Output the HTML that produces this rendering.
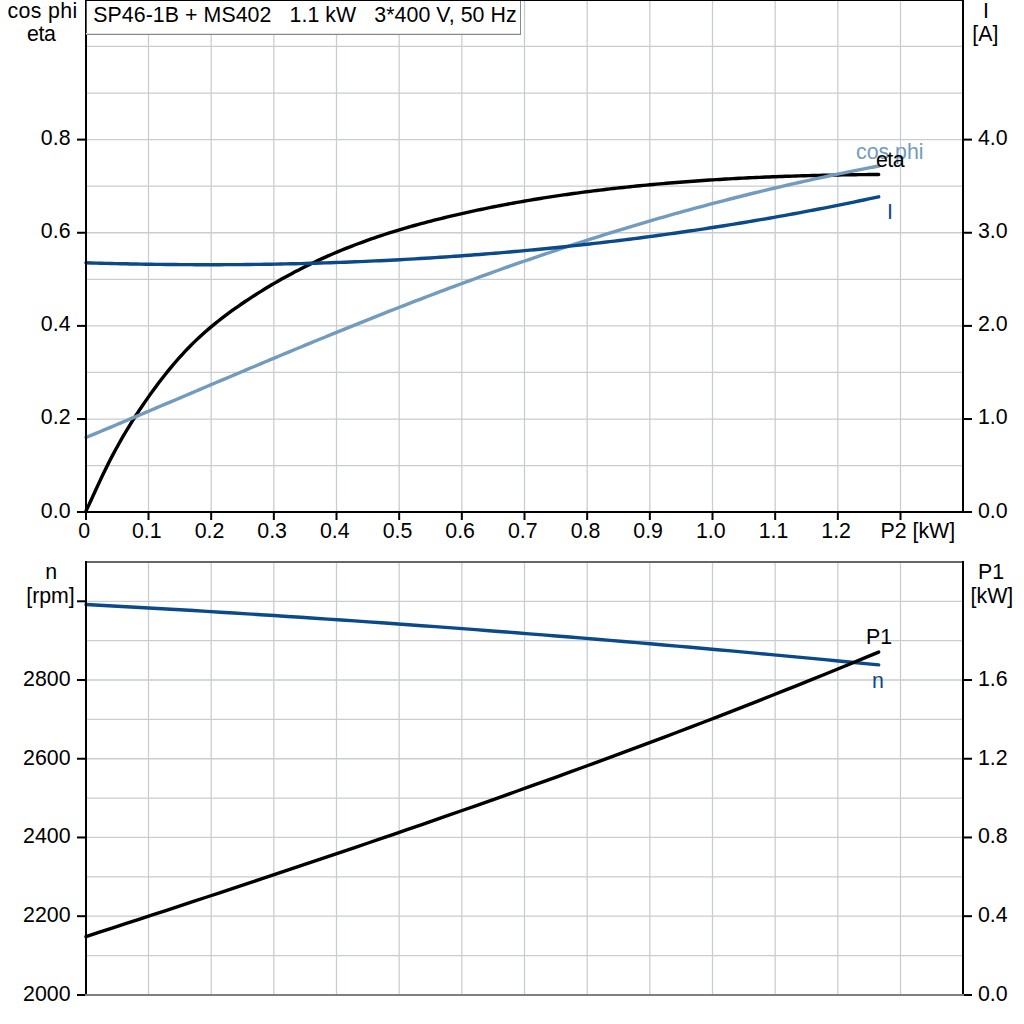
<!DOCTYPE html>
<html><head><meta charset="utf-8"><title>SP46-1B + MS402</title>
<style>html,body{margin:0;padding:0;background:#fff;width:1024px;height:1024px;overflow:hidden}svg{display:block}text{font-family:"Liberation Sans",sans-serif}</style>
</head><body>
<svg width="1024" height="1024" viewBox="0 0 1024 1024" font-family="Liberation Sans, sans-serif" font-size="21.33">
<rect width="1024" height="1024" fill="#fff"/>
<g stroke="#c9cdd1" stroke-width="1.3"><line x1="148.50" y1="1" x2="148.50" y2="511"/><line x1="148.50" y1="563" x2="148.50" y2="994"/><line x1="211.17" y1="1" x2="211.17" y2="511"/><line x1="211.17" y1="563" x2="211.17" y2="994"/><line x1="273.83" y1="1" x2="273.83" y2="511"/><line x1="273.83" y1="563" x2="273.83" y2="994"/><line x1="336.50" y1="1" x2="336.50" y2="511"/><line x1="336.50" y1="563" x2="336.50" y2="994"/><line x1="399.17" y1="1" x2="399.17" y2="511"/><line x1="399.17" y1="563" x2="399.17" y2="994"/><line x1="461.83" y1="1" x2="461.83" y2="511"/><line x1="461.83" y1="563" x2="461.83" y2="994"/><line x1="524.50" y1="1" x2="524.50" y2="511"/><line x1="524.50" y1="563" x2="524.50" y2="994"/><line x1="587.17" y1="1" x2="587.17" y2="511"/><line x1="587.17" y1="563" x2="587.17" y2="994"/><line x1="649.83" y1="1" x2="649.83" y2="511"/><line x1="649.83" y1="563" x2="649.83" y2="994"/><line x1="712.50" y1="1" x2="712.50" y2="511"/><line x1="712.50" y1="563" x2="712.50" y2="994"/><line x1="775.17" y1="1" x2="775.17" y2="511"/><line x1="775.17" y1="563" x2="775.17" y2="994"/><line x1="837.83" y1="1" x2="837.83" y2="511"/><line x1="837.83" y1="563" x2="837.83" y2="994"/><line x1="900.50" y1="1" x2="900.50" y2="511"/><line x1="900.50" y1="563" x2="900.50" y2="994"/><line x1="87" y1="465.60" x2="962" y2="465.60"/><line x1="87" y1="955.54" x2="962" y2="955.54"/><line x1="87" y1="419.03" x2="962" y2="419.03"/><line x1="87" y1="916.18" x2="962" y2="916.18"/><line x1="87" y1="372.46" x2="962" y2="372.46"/><line x1="87" y1="876.82" x2="962" y2="876.82"/><line x1="87" y1="325.89" x2="962" y2="325.89"/><line x1="87" y1="837.46" x2="962" y2="837.46"/><line x1="87" y1="279.32" x2="962" y2="279.32"/><line x1="87" y1="798.10" x2="962" y2="798.10"/><line x1="87" y1="232.75" x2="962" y2="232.75"/><line x1="87" y1="758.74" x2="962" y2="758.74"/><line x1="87" y1="186.18" x2="962" y2="186.18"/><line x1="87" y1="719.38" x2="962" y2="719.38"/><line x1="87" y1="139.61" x2="962" y2="139.61"/><line x1="87" y1="680.02" x2="962" y2="680.02"/><line x1="87" y1="93.04" x2="962" y2="93.04"/><line x1="87" y1="640.66" x2="962" y2="640.66"/><line x1="87" y1="46.47" x2="962" y2="46.47"/><line x1="87" y1="601.30" x2="962" y2="601.30"/></g>
<g><path d="M86.00,511.00 L89.32,503.94 L92.63,496.76 L95.95,489.55 L99.27,482.37 L102.58,475.31 L105.90,468.44 L109.22,461.80 L112.53,455.40 L115.85,449.20 L119.17,443.21 L122.48,437.40 L125.80,431.76 L129.12,426.27 L132.43,420.93 L135.75,415.72 L139.07,410.65 L142.38,405.70 L145.70,400.87 L149.02,396.14 L152.33,391.52 L155.65,386.99 L158.97,382.57 L162.28,378.24 L165.60,374.02 L168.92,369.90 L172.24,365.89 L175.55,361.99 L178.87,358.20 L182.19,354.52 L185.50,350.95 L188.82,347.49 L192.14,344.14 L195.45,340.90 L198.77,337.76 L202.09,334.71 L205.40,331.75 L208.72,328.87 L212.04,326.08 L215.35,323.36 L218.67,320.71 L221.99,318.13 L225.30,315.61 L228.62,313.15 L231.94,310.74 L235.25,308.37 L238.57,306.05 L241.89,303.77 L245.20,301.52 L248.52,299.31 L251.84,297.14 L255.15,295.00 L258.47,292.89 L261.79,290.82 L265.10,288.78 L268.42,286.77 L271.74,284.80 L275.05,282.86 L278.37,280.95 L281.69,279.07 L285.00,277.23 L288.32,275.41 L291.64,273.63 L294.95,271.87 L298.27,270.15 L301.59,268.45 L304.90,266.79 L308.22,265.15 L311.54,263.54 L314.85,261.96 L318.17,260.41 L321.49,258.88 L324.81,257.38 L328.12,255.91 L331.44,254.46 L334.76,253.04 L338.07,251.64 L341.39,250.27 L344.71,248.92 L348.02,247.60 L351.34,246.30 L354.66,245.02 L357.97,243.77 L361.29,242.54 L364.61,241.33 L367.92,240.14 L371.24,238.97 L374.56,237.83 L377.87,236.70 L381.19,235.59 L384.51,234.50 L387.82,233.43 L391.14,232.38 L394.46,231.35 L397.77,230.34 L401.09,229.34 L404.41,228.36 L407.72,227.39 L411.04,226.44 L414.36,225.51 L417.67,224.59 L420.99,223.69 L424.31,222.80 L427.62,221.92 L430.94,221.06 L434.26,220.21 L437.57,219.37 L440.89,218.55 L444.21,217.74 L447.52,216.93 L450.84,216.14 L454.16,215.36 L457.47,214.59 L460.79,213.83 L464.11,213.08 L467.42,212.34 L470.74,211.61 L474.06,210.89 L477.37,210.18 L480.69,209.48 L484.01,208.79 L487.33,208.11 L490.64,207.44 L493.96,206.78 L497.28,206.13 L500.59,205.49 L503.91,204.85 L507.23,204.23 L510.54,203.61 L513.86,203.01 L517.18,202.41 L520.49,201.82 L523.81,201.24 L527.13,200.67 L530.44,200.11 L533.76,199.55 L537.08,199.01 L540.39,198.47 L543.71,197.94 L547.03,197.42 L550.34,196.90 L553.66,196.40 L556.98,195.90 L560.29,195.41 L563.61,194.92 L566.93,194.45 L570.24,193.98 L573.56,193.52 L576.88,193.07 L580.19,192.62 L583.51,192.18 L586.83,191.75 L590.14,191.33 L593.46,190.91 L596.78,190.50 L600.09,190.09 L603.41,189.69 L606.73,189.30 L610.04,188.92 L613.36,188.54 L616.68,188.17 L619.99,187.80 L623.31,187.44 L626.63,187.08 L629.94,186.74 L633.26,186.39 L636.58,186.06 L639.89,185.73 L643.21,185.40 L646.53,185.08 L649.85,184.77 L653.16,184.46 L656.48,184.16 L659.80,183.86 L663.11,183.57 L666.43,183.29 L669.75,183.01 L673.06,182.73 L676.38,182.46 L679.70,182.20 L683.01,181.94 L686.33,181.69 L689.65,181.44 L692.96,181.20 L696.28,180.96 L699.60,180.73 L702.91,180.50 L706.23,180.28 L709.55,180.06 L712.86,179.85 L716.18,179.64 L719.50,179.44 L722.81,179.24 L726.13,179.04 L729.45,178.85 L732.76,178.67 L736.08,178.49 L739.40,178.31 L742.71,178.14 L746.03,177.98 L749.35,177.82 L752.66,177.66 L755.98,177.51 L759.30,177.36 L762.61,177.21 L765.93,177.07 L769.25,176.94 L772.56,176.80 L775.88,176.68 L779.20,176.55 L782.51,176.43 L785.83,176.32 L789.15,176.20 L792.46,176.09 L795.78,175.99 L799.10,175.89 L802.42,175.79 L805.73,175.70 L809.05,175.61 L812.37,175.52 L815.68,175.44 L819.00,175.36 L822.32,175.29 L825.63,175.21 L828.95,175.15 L832.27,175.08 L835.58,175.02 L838.90,174.96 L842.22,174.90 L845.53,174.85 L848.85,174.80 L852.17,174.76 L855.48,174.71 L858.80,174.67 L862.12,174.63 L865.43,174.60 L868.75,174.57 L872.07,174.54 L875.38,174.51 L878.70,174.49" fill="none" stroke="#000" stroke-width="3.4" stroke-linecap="round" stroke-linejoin="round"/><path d="M86.00,437.45 L90.99,435.38 L95.97,433.31 L100.96,431.23 L105.94,429.15 L110.93,427.06 L115.91,424.98 L120.90,422.88 L125.88,420.79 L130.87,418.69 L135.86,416.59 L140.84,414.48 L145.83,412.38 L150.81,410.27 L155.80,408.16 L160.78,406.05 L165.77,403.93 L170.75,401.82 L175.74,399.71 L180.73,397.59 L185.71,395.48 L190.70,393.36 L195.68,391.24 L200.67,389.13 L205.65,387.02 L210.64,384.90 L215.62,382.79 L220.61,380.68 L225.59,378.57 L230.58,376.46 L235.57,374.35 L240.55,372.25 L245.54,370.14 L250.52,368.04 L255.51,365.95 L260.49,363.85 L265.48,361.76 L270.46,359.67 L275.45,357.58 L280.44,355.50 L285.42,353.42 L290.41,351.35 L295.39,349.28 L300.38,347.21 L305.36,345.15 L310.35,343.09 L315.33,341.04 L320.32,338.99 L325.31,336.95 L330.29,334.91 L335.28,332.88 L340.26,330.85 L345.25,328.83 L350.23,326.82 L355.22,324.81 L360.20,322.80 L365.19,320.81 L370.18,318.82 L375.16,316.83 L380.15,314.85 L385.13,312.88 L390.12,310.92 L395.10,308.96 L400.09,307.01 L405.07,305.07 L410.06,303.14 L415.05,301.21 L420.03,299.29 L425.02,297.38 L430.00,295.48 L434.99,293.58 L439.97,291.70 L444.96,289.82 L449.94,287.95 L454.93,286.09 L459.92,284.24 L464.90,282.39 L469.89,280.56 L474.87,278.73 L479.86,276.92 L484.84,275.11 L489.83,273.31 L494.81,271.52 L499.80,269.74 L504.78,267.97 L509.77,266.21 L514.76,264.46 L519.74,262.72 L524.73,260.99 L529.71,259.27 L534.70,257.56 L539.68,255.86 L544.67,254.17 L549.65,252.49 L554.64,250.82 L559.63,249.16 L564.61,247.51 L569.60,245.87 L574.58,244.24 L579.57,242.62 L584.55,241.02 L589.54,239.42 L594.52,237.84 L599.51,236.26 L604.50,234.70 L609.48,233.15 L614.47,231.61 L619.45,230.08 L624.44,228.56 L629.42,227.05 L634.41,225.55 L639.39,224.07 L644.38,222.59 L649.37,221.13 L654.35,219.68 L659.34,218.23 L664.32,216.80 L669.31,215.39 L674.29,213.98 L679.28,212.58 L684.26,211.20 L689.25,209.83 L694.24,208.47 L699.22,207.12 L704.21,205.78 L709.19,204.45 L714.18,203.14 L719.16,201.83 L724.15,200.54 L729.13,199.26 L734.12,197.99 L739.11,196.73 L744.09,195.48 L749.08,194.25 L754.06,193.02 L759.05,191.81 L764.03,190.61 L769.02,189.42 L774.00,188.24 L778.99,187.07 L783.97,185.91 L788.96,184.77 L793.95,183.63 L798.93,182.51 L803.92,181.40 L808.90,180.30 L813.89,179.21 L818.87,178.13 L823.86,177.06 L828.84,176.00 L833.83,174.96 L838.82,173.92 L843.80,172.90 L848.79,171.88 L853.77,170.88 L858.76,169.89 L863.74,168.91 L868.73,167.93 L873.71,166.97 L878.70,166.02" fill="none" stroke="#739bbe" stroke-width="3.4" stroke-linecap="round" stroke-linejoin="round"/><path d="M86.00,262.78 L90.99,262.93 L95.97,263.08 L100.96,263.22 L105.94,263.35 L110.93,263.48 L115.91,263.60 L120.90,263.72 L125.88,263.82 L130.87,263.93 L135.86,264.02 L140.84,264.11 L145.83,264.20 L150.81,264.28 L155.80,264.35 L160.78,264.41 L165.77,264.47 L170.75,264.52 L175.74,264.57 L180.73,264.61 L185.71,264.64 L190.70,264.67 L195.68,264.69 L200.67,264.70 L205.65,264.71 L210.64,264.71 L215.62,264.70 L220.61,264.69 L225.59,264.67 L230.58,264.65 L235.57,264.61 L240.55,264.58 L245.54,264.53 L250.52,264.48 L255.51,264.42 L260.49,264.35 L265.48,264.28 L270.46,264.20 L275.45,264.11 L280.44,264.02 L285.42,263.92 L290.41,263.81 L295.39,263.70 L300.38,263.58 L305.36,263.45 L310.35,263.32 L315.33,263.18 L320.32,263.03 L325.31,262.87 L330.29,262.71 L335.28,262.54 L340.26,262.36 L345.25,262.18 L350.23,261.99 L355.22,261.79 L360.20,261.58 L365.19,261.37 L370.18,261.15 L375.16,260.92 L380.15,260.69 L385.13,260.45 L390.12,260.20 L395.10,259.94 L400.09,259.68 L405.07,259.41 L410.06,259.13 L415.05,258.84 L420.03,258.55 L425.02,258.25 L430.00,257.94 L434.99,257.62 L439.97,257.30 L444.96,256.97 L449.94,256.63 L454.93,256.28 L459.92,255.93 L464.90,255.57 L469.89,255.20 L474.87,254.82 L479.86,254.44 L484.84,254.05 L489.83,253.65 L494.81,253.24 L499.80,252.82 L504.78,252.40 L509.77,251.97 L514.76,251.53 L519.74,251.08 L524.73,250.63 L529.71,250.17 L534.70,249.69 L539.68,249.22 L544.67,248.73 L549.65,248.23 L554.64,247.73 L559.63,247.22 L564.61,246.70 L569.60,246.18 L574.58,245.64 L579.57,245.10 L584.55,244.55 L589.54,243.99 L594.52,243.42 L599.51,242.84 L604.50,242.26 L609.48,241.67 L614.47,241.07 L619.45,240.46 L624.44,239.84 L629.42,239.21 L634.41,238.58 L639.39,237.94 L644.38,237.29 L649.37,236.63 L654.35,235.96 L659.34,235.28 L664.32,234.60 L669.31,233.90 L674.29,233.20 L679.28,232.49 L684.26,231.77 L689.25,231.04 L694.24,230.31 L699.22,229.56 L704.21,228.81 L709.19,228.05 L714.18,227.28 L719.16,226.50 L724.15,225.71 L729.13,224.91 L734.12,224.10 L739.11,223.29 L744.09,222.46 L749.08,221.63 L754.06,220.79 L759.05,219.94 L764.03,219.08 L769.02,218.21 L774.00,217.33 L778.99,216.45 L783.97,215.55 L788.96,214.65 L793.95,213.73 L798.93,212.81 L803.92,211.88 L808.90,210.94 L813.89,209.99 L818.87,209.03 L823.86,208.06 L828.84,207.08 L833.83,206.09 L838.82,205.10 L843.80,204.09 L848.79,203.08 L853.77,202.05 L858.76,201.02 L863.74,199.98 L868.73,198.93 L873.71,197.86 L878.70,196.79" fill="none" stroke="#0b4a8a" stroke-width="3.4" stroke-linecap="round" stroke-linejoin="round"/><path d="M86.00,604.50 L99.44,605.22 L112.87,605.96 L126.31,606.70 L139.74,607.45 L153.18,608.22 L166.61,608.99 L180.05,609.78 L193.48,610.57 L206.92,611.38 L220.36,612.19 L233.79,613.02 L247.23,613.85 L260.66,614.70 L274.10,615.56 L287.53,616.43 L300.97,617.31 L314.41,618.19 L327.84,619.09 L341.28,620.00 L354.71,620.92 L368.15,621.85 L381.58,622.79 L395.02,623.75 L408.45,624.71 L421.89,625.68 L435.33,626.66 L448.76,627.65 L462.20,628.66 L475.63,629.67 L489.07,630.69 L502.50,631.73 L515.94,632.77 L529.37,633.83 L542.81,634.89 L556.25,635.97 L569.68,637.06 L583.12,638.15 L596.55,639.26 L609.99,640.38 L623.42,641.51 L636.86,642.64 L650.29,643.79 L663.73,644.95 L677.17,646.12 L690.60,647.30 L704.04,648.49 L717.47,649.69 L730.91,650.90 L744.34,652.12 L757.78,653.36 L771.22,654.60 L784.65,655.85 L798.09,657.11 L811.52,658.39 L824.96,659.67 L838.39,660.97 L851.83,662.27 L865.26,663.59 L878.70,664.91" fill="none" stroke="#0b4a8a" stroke-width="3.4" stroke-linecap="round" stroke-linejoin="round"/><path d="M86.00,936.61 L99.44,932.23 L112.87,927.85 L126.31,923.46 L139.74,919.06 L153.18,914.66 L166.61,910.26 L180.05,905.85 L193.48,901.42 L206.92,897.00 L220.36,892.56 L233.79,888.11 L247.23,883.65 L260.66,879.19 L274.10,874.71 L287.53,870.22 L300.97,865.71 L314.41,861.20 L327.84,856.67 L341.28,852.13 L354.71,847.57 L368.15,842.99 L381.58,838.41 L395.02,833.80 L408.45,829.18 L421.89,824.54 L435.33,819.88 L448.76,815.20 L462.20,810.51 L475.63,805.79 L489.07,801.05 L502.50,796.29 L515.94,791.51 L529.37,786.71 L542.81,781.89 L556.25,777.04 L569.68,772.17 L583.12,767.27 L596.55,762.35 L609.99,757.40 L623.42,752.42 L636.86,747.42 L650.29,742.39 L663.73,737.33 L677.17,732.25 L690.60,727.13 L704.04,721.99 L717.47,716.81 L730.91,711.60 L744.34,706.36 L757.78,701.09 L771.22,695.78 L784.65,690.45 L798.09,685.07 L811.52,679.67 L824.96,674.22 L838.39,668.74 L851.83,663.23 L865.26,657.68 L878.70,652.09" fill="none" stroke="#000" stroke-width="3.4" stroke-linecap="round" stroke-linejoin="round"/></g>
<g shape-rendering="crispEdges"><rect x="85" y="0" width="879" height="1" fill="#000"/><rect x="85" y="0" width="2" height="513" fill="#000"/><rect x="962" y="0" width="2" height="513" fill="#000"/><rect x="85" y="511" width="879" height="2" fill="#000"/><rect x="77" y="511" width="8" height="2" fill="#000"/><rect x="964" y="511" width="8" height="2" fill="#000"/><rect x="85" y="513" width="2" height="7" fill="#000"/><rect x="85" y="561" width="879" height="2" fill="#646769"/><rect x="85" y="563" width="2" height="431" fill="#000"/><rect x="962" y="563" width="2" height="431" fill="#000"/><rect x="85" y="994" width="879" height="2" fill="#7f7f7f"/><rect x="85" y="561" width="2" height="2" fill="#000"/><rect x="962" y="561" width="2" height="2" fill="#000"/><rect x="77" y="994" width="8" height="2" fill="#000"/><rect x="964" y="994" width="8" height="2" fill="#000"/></g>
<g fill="#000"><rect x="77.00" y="418.03" width="8" height="2"/><rect x="964.00" y="418.03" width="8" height="2"/><rect x="77.00" y="324.89" width="8" height="2"/><rect x="964.00" y="324.89" width="8" height="2"/><rect x="77.00" y="231.75" width="8" height="2"/><rect x="964.00" y="231.75" width="8" height="2"/><rect x="77.00" y="138.61" width="8" height="2"/><rect x="964.00" y="138.61" width="8" height="2"/><rect x="147.50" y="513.00" width="2" height="7"/><rect x="210.17" y="513.00" width="2" height="7"/><rect x="272.83" y="513.00" width="2" height="7"/><rect x="335.50" y="513.00" width="2" height="7"/><rect x="398.17" y="513.00" width="2" height="7"/><rect x="460.83" y="513.00" width="2" height="7"/><rect x="523.50" y="513.00" width="2" height="7"/><rect x="586.17" y="513.00" width="2" height="7"/><rect x="648.83" y="513.00" width="2" height="7"/><rect x="711.50" y="513.00" width="2" height="7"/><rect x="774.17" y="513.00" width="2" height="7"/><rect x="836.83" y="513.00" width="2" height="7"/><rect x="899.50" y="513.00" width="2" height="7"/><rect x="77.00" y="915.18" width="8" height="2"/><rect x="964.00" y="915.18" width="8" height="2"/><rect x="77.00" y="836.46" width="8" height="2"/><rect x="964.00" y="836.46" width="8" height="2"/><rect x="77.00" y="757.74" width="8" height="2"/><rect x="964.00" y="757.74" width="8" height="2"/><rect x="77.00" y="679.02" width="8" height="2"/><rect x="964.00" y="679.02" width="8" height="2"/><rect x="77.00" y="600.30" width="8" height="2"/></g>
<g shape-rendering="crispEdges"><rect x="85" y="0" width="436" height="35" fill="#fff"/><rect x="85" y="0" width="436" height="1" fill="#000"/><rect x="85" y="0" width="1" height="35" fill="#000"/><rect x="86" y="1" width="1" height="33" fill="#505050"/><rect x="520" y="1" width="1" height="34" fill="#888"/><rect x="86" y="33" width="434" height="1" fill="#e2e2e2"/><rect x="86" y="34" width="435" height="1" fill="#878787"/></g>
<text x="93.2" y="22" fill="#000" letter-spacing="0.07" xml:space="preserve">SP46-1B + MS402   1.1 kW   3*400 V, 50 Hz</text>
<g><text x="70.50" y="145.01" text-anchor="end" fill="#000">0.8</text><text x="978.00" y="145.01" text-anchor="start" fill="#000">4.0</text><text x="70.50" y="238.15" text-anchor="end" fill="#000">0.6</text><text x="978.00" y="238.15" text-anchor="start" fill="#000">3.0</text><text x="70.50" y="331.29" text-anchor="end" fill="#000">0.4</text><text x="978.00" y="331.29" text-anchor="start" fill="#000">2.0</text><text x="70.50" y="424.43" text-anchor="end" fill="#000">0.2</text><text x="978.00" y="424.43" text-anchor="start" fill="#000">1.0</text><text x="70.50" y="517.57" text-anchor="end" fill="#000">0.0</text><text x="978.00" y="517.57" text-anchor="start" fill="#000">0.0</text><text x="84.13" y="538.00" text-anchor="middle" fill="#000">0</text><text x="146.80" y="538.00" text-anchor="middle" fill="#000">0.1</text><text x="209.47" y="538.00" text-anchor="middle" fill="#000">0.2</text><text x="272.13" y="538.00" text-anchor="middle" fill="#000">0.3</text><text x="334.80" y="538.00" text-anchor="middle" fill="#000">0.4</text><text x="397.47" y="538.00" text-anchor="middle" fill="#000">0.5</text><text x="460.13" y="538.00" text-anchor="middle" fill="#000">0.6</text><text x="522.80" y="538.00" text-anchor="middle" fill="#000">0.7</text><text x="585.47" y="538.00" text-anchor="middle" fill="#000">0.8</text><text x="648.13" y="538.00" text-anchor="middle" fill="#000">0.9</text><text x="710.80" y="538.00" text-anchor="middle" fill="#000">1.0</text><text x="773.47" y="538.00" text-anchor="middle" fill="#000">1.1</text><text x="836.13" y="538.00" text-anchor="middle" fill="#000">1.2</text><text x="880.50" y="538.00" text-anchor="start" fill="#000">P2 [kW]</text><text x="70.50" y="686.32" text-anchor="end" fill="#000">2800</text><text x="978.00" y="686.32" text-anchor="start" fill="#000">1.6</text><text x="70.50" y="764.86" text-anchor="end" fill="#000">2600</text><text x="978.00" y="764.86" text-anchor="start" fill="#000">1.2</text><text x="70.50" y="843.41" text-anchor="end" fill="#000">2400</text><text x="978.00" y="843.41" text-anchor="start" fill="#000">0.8</text><text x="70.50" y="921.95" text-anchor="end" fill="#000">2200</text><text x="978.00" y="921.95" text-anchor="start" fill="#000">0.4</text><text x="70.50" y="1000.50" text-anchor="end" fill="#000">2000</text><text x="978.00" y="1000.50" text-anchor="start" fill="#000">0.0</text><text x="42.6" y="18" text-anchor="middle" letter-spacing="0.35">cos phi</text><text x="41.3" y="41" text-anchor="middle" letter-spacing="-0.3">eta</text><text x="986.00" y="18.00" text-anchor="middle" fill="#000">I</text><text x="985.30" y="41.00" text-anchor="middle" fill="#000">[A]</text><text x="51.30" y="579.00" text-anchor="middle" fill="#000">n</text><text x="50.50" y="603.00" text-anchor="middle" fill="#000">[rpm]</text><text x="991.00" y="579.00" text-anchor="middle" fill="#000">P1</text><text x="991.90" y="603.00" text-anchor="middle" fill="#000">[kW]</text><text x="856.00" y="159.00" text-anchor="start" fill="#739bbe">cos phi</text><text x="876" y="166.8" letter-spacing="-0.5">eta</text><text x="887.00" y="219.00" text-anchor="start" fill="#0b4a8a">I</text><text x="866.00" y="644.00" text-anchor="start" fill="#000">P1</text><text x="872.00" y="688.00" text-anchor="start" fill="#0b4a8a">n</text></g>
</svg>
</body></html>
